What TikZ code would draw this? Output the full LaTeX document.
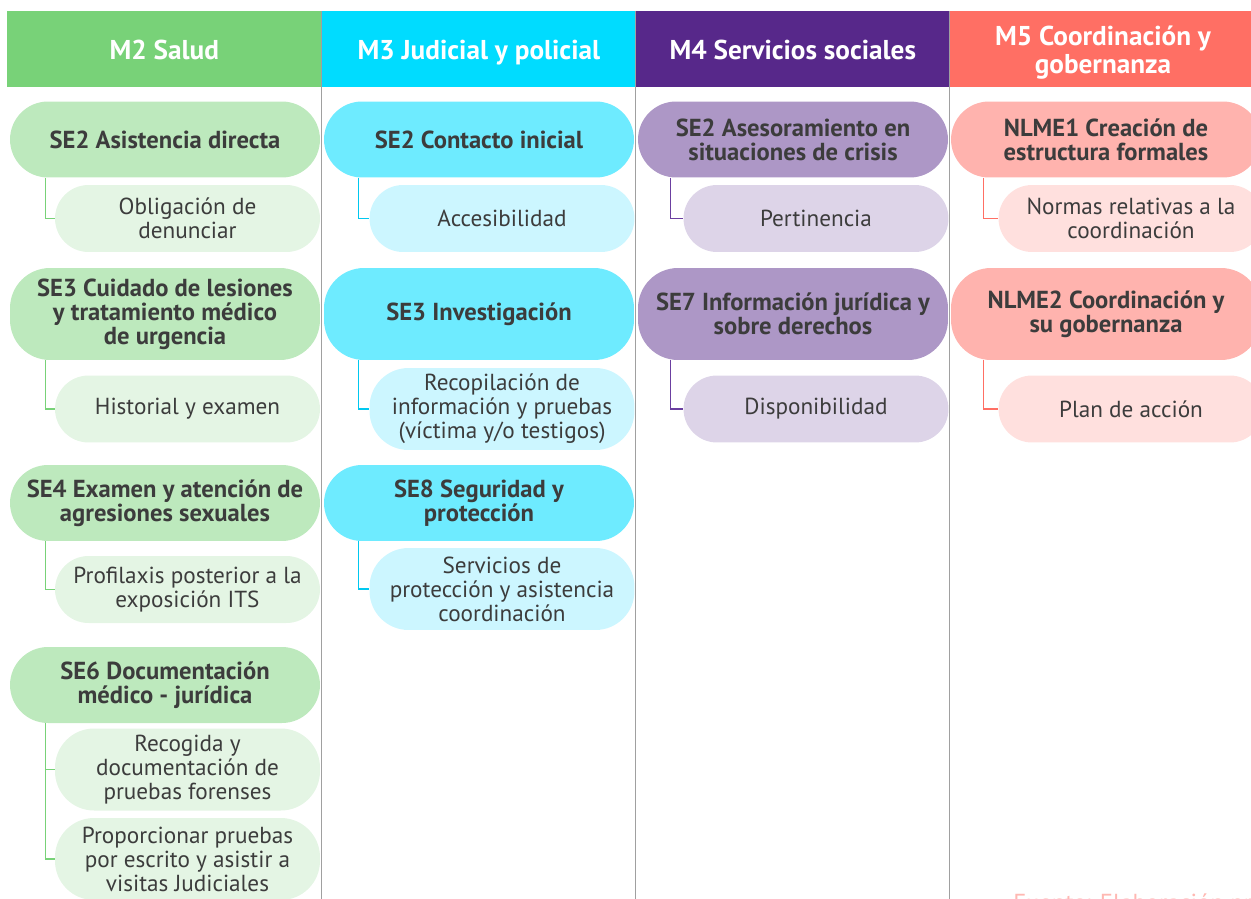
\documentclass[tikz,border=0pt]{standalone}
\usepackage{fontspec}
\setmainfont{PT Sans}
\usetikzlibrary{calc}
\definecolor{hA}{HTML}{78D278}
\definecolor{pA}{HTML}{BDE9BD}
\definecolor{cA}{HTML}{E4F5E4}
\definecolor{hB}{HTML}{00DCFF}
\definecolor{pB}{HTML}{6EEBFF}
\definecolor{cB}{HTML}{CCF6FF}
\definecolor{lB}{HTML}{00C8F0}
\definecolor{hC}{HTML}{57288A}
\definecolor{pC}{HTML}{AD97C6}
\definecolor{cC}{HTML}{DDD4E8}
\definecolor{lC}{HTML}{6B3FA0}
\definecolor{hD}{HTML}{FF6F64}
\definecolor{pD}{HTML}{FFB3AE}
\definecolor{cD}{HTML}{FFE0DE}
\definecolor{txt}{HTML}{3C3C3C}
\definecolor{sep}{HTML}{A0A0A0}
\definecolor{src}{HTML}{FFB8B2}
\begin{document}
\begin{tikzpicture}[x=0.02cm,y=-0.02cm,
  hdr/.style={fill=#1, text=white, font=\bfseries\fontsize{15.5}{16}\selectfont, align=center, minimum height=1.52cm, inner sep=0pt, anchor=north west},
  hdrtext/.style={text=white, font=\bfseries\fontsize{15.5}{16}\selectfont, align=center, inner sep=0pt},
  oneline/.style={text height=13.5pt, text depth=1.4pt},
  par/.style={fill=#1, text=txt, font=\bfseries\fontsize{14}{13.7}\selectfont, align=center, minimum width=6.2cm, minimum height=1.52cm, rounded corners=0.76cm, inner sep=0pt},
  ptall/.style={minimum height=1.84cm, rounded corners=0.8cm},
  chi/.style={fill=#1, text=txt, font=\fontsize{13.2}{13.7}\selectfont, align=center, minimum width=5.3cm, minimum height=1.34cm, rounded corners=0.67cm, inner sep=0pt},
  ctall/.style={minimum height=1.64cm, rounded corners=0.78cm},
  conn/.style={draw=#1, line width=0.7pt},
  sepline/.style={draw=sep, line width=0.7pt}]
\useasboundingbox (0,0) rectangle (1251,899);

% headers
\node[hdr=hA, oneline, minimum width=6.28cm] (h2) at (7,11) {M2 Salud};
\node[hdr=hB, oneline, minimum width=6.26cm] (h3) at (322,11) {M3 Judicial y policial};
\node[hdr=hC, oneline, minimum width=6.26cm] (h4) at (636,11) {M4 Servicios sociales};
\node[hdr=hD, minimum width=6.02cm] (h5) at (950,11) {};
\node[hdrtext] (h5t) at (1103,53) {M5 Coordinación y\\gobernanza};

% separators
\draw[sepline] (321.5,11) -- (321.5,899);
\draw[sepline] (635.5,11) -- (635.5,899);
\draw[sepline] (949.5,11) -- (949.5,899);

% column M2
\node[par=pA] (a1) at (165,139.5) {SE2 Asistencia directa};
\node[chi=cA] (a2) at (187.5,218.5) {Obligación de\\denunciar};
\node[par=pA, ptall] (a3) at (165,314) {SE3 Cuidado de lesiones\\y tratamiento médico\\de urgencia};
\node[chi=cA] (a4) at (187.5,409) {Historial y examen};
\node[par=pA] (a5) at (165,503) {SE4 Examen y atención de\\agresiones sexuales};
\node[chi=cA] (a6) at (187.5,589.5) {Profilaxis posterior a la\\exposición ITS};
\node[par=pA] (a7) at (165,685) {SE6 Documentación\\médico - jurídica};
\node[chi=cA, ctall] (a8) at (187.5,769.5) {Recogida y\\documentación de\\pruebas forenses};
\node[chi=cA, ctall] (a9) at (187.5,859) {Proporcionar pruebas\\por escrito y asistir a\\visitas Judiciales};

\draw[conn=hA] (a1.south west) ++(0.72cm,0) |- (a2.west);
\draw[conn=hA] (a3.south west) ++(0.72cm,0) |- (a4.west);
\draw[conn=hA] (a5.south west) ++(0.72cm,0) |- (a6.west);
\draw[conn=hA] (a7.south west) ++(0.72cm,0) |- (a8.west);
\draw[conn=hA] (a7.south west) ++(0.72cm,0) |- (a9.west);

% column M3
\node[par=pB] (b1) at (479,139.5) {SE2 Contacto inicial};
\node[chi=cB] (b2) at (502,218.5) {Accesibilidad};
\node[par=pB, ptall] (b3) at (479,314) {SE3 Investigación};
\node[chi=cB, ctall] (b4) at (502,409) {Recopilación de\\información y pruebas\\(víctima y/o testigos)};
\node[par=pB] (b5) at (479,503) {SE8 Seguridad y\\protección};
\node[chi=cB, ctall] (b6) at (502,589) {Servicios de\\protección y asistencia\\coordinación};

\draw[conn=lB] (b1.south west) ++(0.7cm,0) |- (b2.west);
\draw[conn=lB] (b3.south west) ++(0.7cm,0) |- (b4.west);
\draw[conn=lB] (b5.south west) ++(0.7cm,0) |- (b6.west);

% column M4
\node[par=pC] (c1) at (793,139.5) {SE2 Asesoramiento en\\situaciones de crisis};
\node[chi=cC] (c2) at (816,218.5) {Pertinencia};
\node[par=pC, ptall] (c3) at (793,314) {SE7 Información jurídica y\\sobre derechos};
\node[chi=cC] (c4) at (816,409) {Disponibilidad};

\draw[conn=lC] (c1.south west) ++(0.66cm,0) |- (c2.west);
\draw[conn=lC] (c3.south west) ++(0.66cm,0) |- (c4.west);

% column M5
\node[par=pD] (d1) at (1106,139.5) {NLME1 Creación de\\estructura formales};
\node[chi=cD] (d2) at (1131,218.5) {Normas relativas a la\\coordinación};
\node[par=pD, ptall] (d3) at (1106,314) {NLME2 Coordinación y\\su gobernanza};
\node[chi=cD] (d4) at (1131,409) {Plan de acción};

\draw[conn=hD] (d1.south west) ++(0.66cm,0) |- (d2.west);
\draw[conn=hD] (d3.south west) ++(0.66cm,0) |- (d4.west);

% source
\node[anchor=base west, text=src, font=\fontsize{14}{15}\selectfont, inner sep=0pt] (s) at (1013,911) {Fuente: Elaboración propia};
\end{tikzpicture}
\end{document}
